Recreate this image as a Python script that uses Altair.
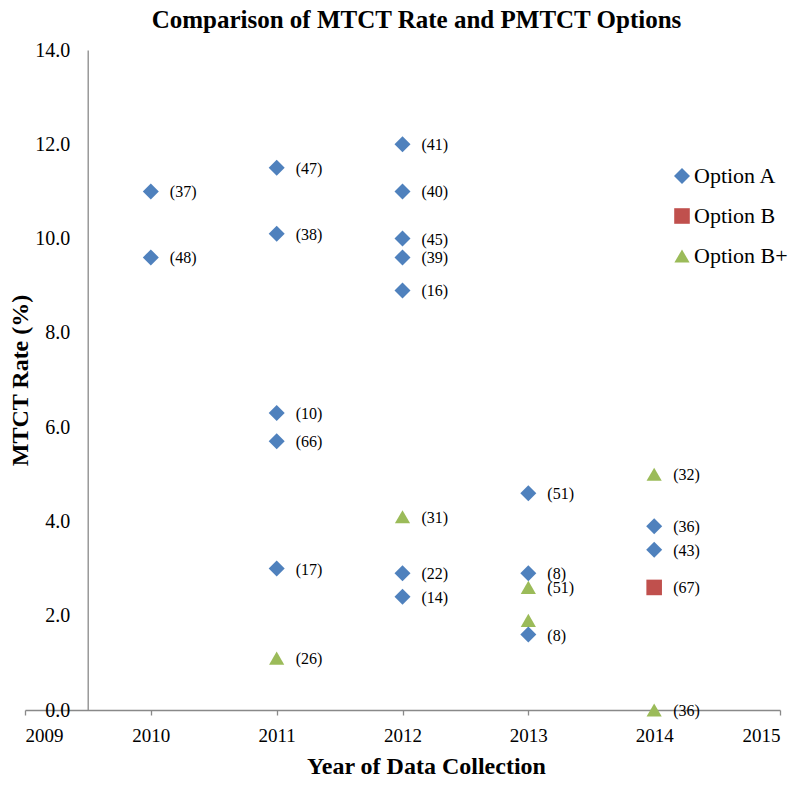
import altair as alt
import pandas as pd

# Option A
a_years = [2010, 2010, 2011, 2011, 2011, 2011, 2011, 2012, 2012, 2012, 2012, 2012, 2012, 2012, 2013, 2013, 2013, 2014, 2014]
a_rates = [11.0, 9.6, 11.5, 10.1, 6.3, 5.7, 3.0, 12.0, 11.0, 10.0, 9.6, 8.9, 2.9, 2.4, 4.6, 2.9, 1.6, 3.9, 3.4]
a_n = ["(37)", "(48)", "(47)", "(38)", "(10)", "(66)", "(17)", "(41)", "(40)", "(45)", "(39)", "(16)", "(22)", "(14)", "(51)", "(8)", "(8)", "(36)", "(43)"]

# Option B
b_years = [2014]
b_rates = [2.6]
b_n = ["(67)"]

# Option B+
bp_years = [2011, 2012, 2013, 2013, 2014, 2014]
bp_rates = [1.1, 4.1, 2.6, 1.9, 5.0, 0.0]
bp_n = ["(26)", "(31)", "(51)", "", "(32)", "(36)"]

options = ["Option A", "Option B", "Option B+"]
colors = ["#4F81BD", "#C0504D", "#9BBB59"]
shapes = ["diamond", "square", "triangle-up"]
sizes = [256, 230, 300]

rows = []
for yrs, rts, ns, opt in [(bp_years, bp_rates, bp_n, "Option B+"),
                          (b_years, b_rates, b_n, "Option B"),
                          (a_years, a_rates, a_n, "Option A")]:
    for y, r, n in zip(yrs, rts, ns):
        rows.append({"year": y, "rate": r, "n": n, "option": opt})
df = pd.DataFrame(rows)

FONT = "Liberation Serif"
AX = "#898989"

x = alt.X("year:Q",
          scale=alt.Scale(domain=[2009, 2015], nice=False, zero=False),
          axis=alt.Axis(values=[2009, 2010, 2011, 2012, 2013, 2014, 2015], format="d",
                        title="Year of Data Collection", grid=False,
                        domainColor=AX, domainWidth=1.3, tickColor=AX, tickWidth=1.3, tickSize=5,
                        labelFont=FONT, labelFontSize=19, labelColor="#000", labelPadding=11,
                        titleFont=FONT, titleFontSize=24, titleFontWeight="bold", titleColor="#000",
                        titleX=401, titleY=63, titleAlign="center", titleBaseline="alphabetic"))
y = alt.Y("rate:Q",
          scale=alt.Scale(domain=[0, 14], nice=False),
          axis=alt.Axis(values=[0, 2, 4, 6, 8, 10, 12, 14], format=".1f",
                        title="MTCT Rate (%)", grid=False, offset=-62.7,
                        domainColor=AX, domainWidth=1.3, ticks=False,
                        labelFont=FONT, labelFontSize=20, labelColor="#000", labelPadding=18,
                        titleFont=FONT, titleFontSize=24, titleFontWeight="bold", titleColor="#000",
                        titleX=-67, titleY=330, titleAngle=270, titleAlign="center",
                        titleBaseline="middle"))

legend = alt.Legend(title=None, orient="none", legendX=646, legendY=115,
                    labelFont=FONT, labelFontSize=22, labelColor="#000", labelOffset=1,
                    rowPadding=18, padding=0, symbolStrokeWidth=0, symbolOpacity=1)

points = alt.Chart(df).mark_point(filled=True, opacity=1, strokeWidth=0).encode(
    x=x, y=y,
    color=alt.Color("option:N", scale=alt.Scale(domain=options, range=colors), legend=legend),
    shape=alt.Shape("option:N", scale=alt.Scale(domain=options, range=shapes), legend=legend),
    size=alt.Size("option:N", scale=alt.Scale(domain=options, range=sizes), legend=legend),
)

labels = alt.Chart(df).mark_text(align="left", baseline="middle", dx=19, dy=1,
                                 font=FONT, fontSize=16, color="#000").encode(
    x="year:Q", y="rate:Q", text="n:N")

chart = alt.layer(points, labels).properties(
    width=755, height=660,
    title=alt.TitleParams("Comparison of MTCT Rate and PMTCT Options", font=FONT, fontSize=25,
                          fontWeight="bold", color="#000", anchor="middle", frame="group",
                          offset=7, dx=14),
    padding={"left": 17, "top": 42, "right": 12, "bottom": 67},
    autosize=alt.AutoSizeParams(type="none"),
).configure_view(stroke=None)

chart.save("out.html", embed_options={"renderer": "svg", "actions": False})
